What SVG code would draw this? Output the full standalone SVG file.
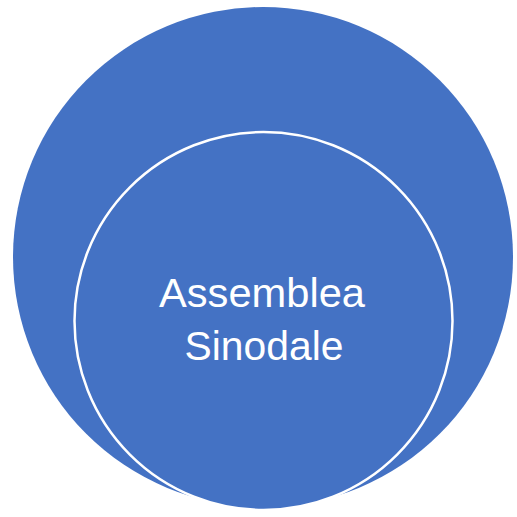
<svg xmlns="http://www.w3.org/2000/svg" width="517" height="517" viewBox="0 0 517 517">
<style>
.c{fill:#4472C4}
.t{font-family:"Liberation Sans",Arial,sans-serif;font-size:41px;fill:#ffffff;text-anchor:middle}
</style>
<rect width="517" height="517" fill="#ffffff"/>
<g id="outer"><circle class="c" cx="263" cy="257" r="250"/></g>
<g id="inner">
<circle class="c" cx="263.5" cy="321" r="189" stroke="#ffffff" stroke-width="2.5"/>
<text class="t" x="262" y="307" textLength="206" lengthAdjust="spacingAndGlyphs">Assemblea</text>
<text class="t" x="264" y="360" textLength="159" lengthAdjust="spacingAndGlyphs">Sinodale</text>
</g>
</svg>
